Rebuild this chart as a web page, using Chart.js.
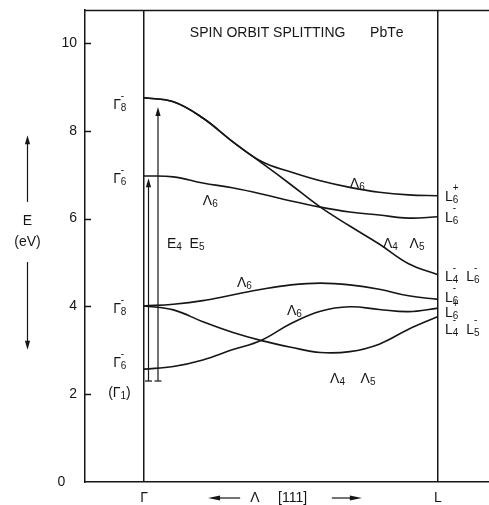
<!DOCTYPE html>
<html>
<head>
<meta charset="utf-8">
<script src="https://cdn.jsdelivr.net/npm/chart.js@4/dist/chart.umd.min.js"></script>
<style>
  html, body { margin: 0; padding: 0; background: #fff; }
  #wrap { width: 489px; height: 505px; position: relative; }
</style>
</head>
<body>
<div id="wrap"><canvas id="bands"></canvas></div>
<script>
// Wave vector along Λ [111]: Γ = 0, L = 1
const kPoints = [0, 0.1, 0.2, 0.3, 0.4, 0.5, 0.6, 0.7, 0.8, 0.9, 1.0];

// Band energies (eV) at each k point
const bandG8ToL4L6 = [8.75, 8.66, 8.29, 7.76, 7.27, 6.77, 6.26, 5.83, 5.42, 4.97, 4.72]; // Λ4 Λ5
const bandG8ToL6p  = [8.75, 8.66, 8.29, 7.76, 7.30, 7.06, 6.86, 6.71, 6.60, 6.54, 6.52]; // Λ6
const bandG6ToL6m  = [6.97, 6.95, 6.81, 6.70, 6.56, 6.40, 6.26, 6.15, 6.08, 6.01, 6.04]; // Λ6
const bandG8lowL6  = [4.01, 4.05, 4.13, 4.26, 4.39, 4.49, 4.53, 4.49, 4.39, 4.24, 4.16]; // Λ6
const bandG8lowL45 = [4.01, 3.92, 3.65, 3.41, 3.22, 3.07, 2.95, 2.97, 3.14, 3.48, 3.77]; // Λ4 Λ5
const bandG6lowL6  = [2.57, 2.63, 2.78, 3.01, 3.23, 3.61, 3.89, 3.99, 3.93, 3.88, 3.96]; // Λ6

// Transition arrows at Γ: start and end energies (eV)
const transitionFrom = [2.30, 2.30];
const transitionTo   = [6.92, 8.54];

// Axis ticks
const yTickValues = [0, 2, 4, 6, 8, 10];
const yTickLabels = ['0   ', '2', '4', '6', '8', '10'];
const xTickValues = [0, 1];
const xTickLabels = ['Γ', 'L'];

const INK = '#161616';
const FONT = '"Liberation Sans", Arial, sans-serif';
const X_MIN = -59 / 294, X_MAX = 1 + 51 / 294, Y_MAX = 10.75;

const bands = [bandG8ToL4L6, bandG8ToL6p, bandG6ToL6m, bandG8lowL6, bandG8lowL45, bandG6lowL6];
const datasets = bands.map(b => ({
  data: kPoints.map((k, i) => ({ x: k, y: b[i] })),
  borderColor: INK,
  borderWidth: 1.6,
  pointRadius: 0,
  fill: false,
  tension: 0.4
}));

// Text annotations: k position, energy of label centre, text ( _x subscript, ^x superscript )
const labels = [
  { k: -0.105, e: 8.61, t: 'Γ_8^-' },
  { k: -0.105, e: 6.92, t: 'Γ_6^-' },
  { k: -0.105, e: 3.96, t: 'Γ_8^-' },
  { k: -0.105, e: 2.73, t: 'Γ_6^-' },
  { k: -0.122, e: 2.05, t: '(Γ_1)' },
  { k: 1.024, e: 6.51, t: 'L_6^+' },
  { k: 1.024, e: 6.04, t: 'L_6^-' },
  { k: 1.024, e: 4.69, t: 'L_4^-  L_6^-' },
  { k: 1.024, e: 4.22, t: 'L_6^-' },
  { k: 1.024, e: 3.87, t: 'L_6^+' },
  { k: 1.024, e: 3.49, t: 'L_4^-  L_5^-' },
  { k: 0.70,  e: 6.82, t: 'Λ_6' },
  { k: 0.20,  e: 6.42, t: 'Λ_6' },
  { k: 0.078, e: 5.44, t: 'E_4  E_5' },
  { k: 0.813, e: 5.44, t: 'Λ_4   Λ_5' },
  { k: 0.316, e: 4.56, t: 'Λ_6' },
  { k: 0.486, e: 3.92, t: 'Λ_6' },
  { k: 0.633, e: 2.37, t: 'Λ_4    Λ_5' },
  { k: 0.156, e: 10.25, t: 'SPIN ORBIT SPLITTING' },
  { k: 0.769, e: 10.25, t: 'PbTe' }
];
const transitionK = [0.0153, 0.0476];

function drawRich(ctx, x, cy, str, size) {
  const small = Math.round(size * 0.74);
  const base = cy + size * 0.36;
  let cx = x, subX = null;
  ctx.textAlign = 'left';
  ctx.textBaseline = 'alphabetic';
  for (let i = 0; i < str.length; i++) {
    const ch = str[i];
    if (ch === '_') {
      const s = str[++i];
      ctx.font = small + 'px ' + FONT;
      ctx.fillText(s, cx, base + 2);
      subX = cx;
      cx += ctx.measureText(s).width;
      continue;
    }
    if (ch === '^') {
      const s = str[++i];
      ctx.font = small + 'px ' + FONT;
      const w = ctx.measureText(s).width;
      const sx = subX !== null ? subX : cx;
      ctx.fillText(s, sx, base - size * 0.74);
      cx = Math.max(cx, sx + w);
      subX = null;
      continue;
    }
    subX = null;
    ctx.font = size + 'px ' + FONT;
    ctx.fillText(ch, cx, base);
    cx += ctx.measureText(ch).width;
  }
}

function seg(ctx, x1, y1, x2, y2) {
  ctx.beginPath(); ctx.moveTo(x1, y1); ctx.lineTo(x2, y2); ctx.stroke();
}
function head(ctx, x, y, dir) {
  // filled arrow head pointing up (dir=-1) or down (dir=1)
  ctx.beginPath();
  ctx.moveTo(x, y);
  ctx.lineTo(x - 2.6, y - dir * 9);
  ctx.lineTo(x + 2.6, y - dir * 9);
  ctx.closePath(); ctx.fill();
}
function hhead(ctx, x, y, dir) {
  // filled arrow head pointing left (dir=-1) or right (dir=1)
  ctx.beginPath();
  ctx.moveTo(x, y);
  ctx.lineTo(x - dir * 12, y - 2.6);
  ctx.lineTo(x - dir * 12, y + 2.6);
  ctx.closePath(); ctx.fill();
}

const decor = {
  id: 'decor',
  afterDraw(chart) {
    const { ctx, chartArea: a, scales: { x, y } } = chart;
    ctx.save();
    ctx.strokeStyle = INK; ctx.fillStyle = INK; ctx.lineWidth = 1.5;

    // top frame line
    seg(ctx, a.left, a.top + 0.5, a.right, a.top + 0.5);

    // inward tick marks on the energy axis
    yTickValues.forEach(v => {
      if (v === 0) return;
      const py = Math.round(y.getPixelForValue(v)) + 0.5;
      seg(ctx, a.left, py, a.left + 6, py);
    });

    // transition arrows with foot serifs
    ctx.lineWidth = 1.2;
    transitionK.forEach((k, i) => {
      const px = x.getPixelForValue(k);
      const y0 = y.getPixelForValue(transitionFrom[i]);
      const y1 = y.getPixelForValue(transitionTo[i]);
      seg(ctx, px, y0, px, y1 + 6);
      head(ctx, px, y1, -1);
      seg(ctx, px - 3.5, y0, px + 3.5, y0);
    });

    // energy direction arrows on the far left
    const ax = 27.5;
    seg(ctx, ax, y.getPixelForValue(6.38), ax, y.getPixelForValue(7.90) + 6);
    head(ctx, ax, y.getPixelForValue(7.90), -1);
    seg(ctx, ax, y.getPixelForValue(5.01), ax, y.getPixelForValue(3.01) - 6);
    head(ctx, ax, y.getPixelForValue(3.01), 1);

    ctx.font = '14px ' + FONT;
    ctx.textAlign = 'center'; ctx.textBaseline = 'middle';
    ctx.fillText('E', ax, y.getPixelForValue(5.95));
    ctx.fillText('(eV)', ax, y.getPixelForValue(5.47));

    // k-direction caption under the axis
    const by = a.bottom + 16;
    const xl0 = x.getPixelForValue(0.218), xl1 = x.getPixelForValue(0.327);
    seg(ctx, xl0 + 8, by, xl1, by); hhead(ctx, xl0, by, -1);
    const xr0 = x.getPixelForValue(0.639), xr1 = x.getPixelForValue(0.741);
    seg(ctx, xr0, by, xr1 - 8, by); hhead(ctx, xr1, by, 1);
    ctx.textAlign = 'left';
    ctx.fillText('Λ', x.getPixelForValue(0.361), by);
    ctx.fillText('[111]', x.getPixelForValue(0.456), by);

    // symmetry and band labels
    labels.forEach(l => {
      drawRich(ctx, x.getPixelForValue(l.k), y.getPixelForValue(l.e), l.t, 14);
    });
    ctx.restore();
  }
};

new Chart(document.getElementById('bands'), {
  type: 'line',
  data: { datasets },
  plugins: [decor],
  options: {
    responsive: true,
    maintainAspectRatio: false,
    animation: false,
    layout: { padding: { top: 10, right: 0, bottom: 0, left: 0 } },
    plugins: { legend: { display: false }, tooltip: { enabled: false }, title: { display: false } },
    scales: {
      x: {
        type: 'linear', min: X_MIN, max: X_MAX,
        afterBuildTicks: s => { s.ticks = xTickValues.map(v => ({ value: v })); },
        afterFit: s => { s.height = 23; s.paddingLeft = 0; s.paddingRight = 0; },
        grid: { display: true, drawOnChartArea: true, drawTicks: false, color: INK, lineWidth: 1.5 },
        border: { display: true, color: INK, width: 1.5 },
        ticks: {
          padding: 8, color: INK, maxRotation: 0, autoSkip: false,
          font: { size: 14, family: FONT },
          callback: (v, i) => xTickLabels[i]
        }
      },
      y: {
        type: 'linear', min: 0, max: Y_MAX,
        afterBuildTicks: s => { s.ticks = yTickValues.map(v => ({ value: v })); },
        afterFit: s => { s.width = 85; s.paddingTop = 0; s.paddingBottom = 0; },
        grid: { display: false, drawTicks: false },
        border: { display: true, color: INK, width: 1.5 },
        ticks: {
          padding: 8, color: INK,
          font: { size: 14, family: FONT },
          callback: (v, i) => yTickLabels[i]
        }
      }
    }
  }
});
</script>
</body>
</html>
